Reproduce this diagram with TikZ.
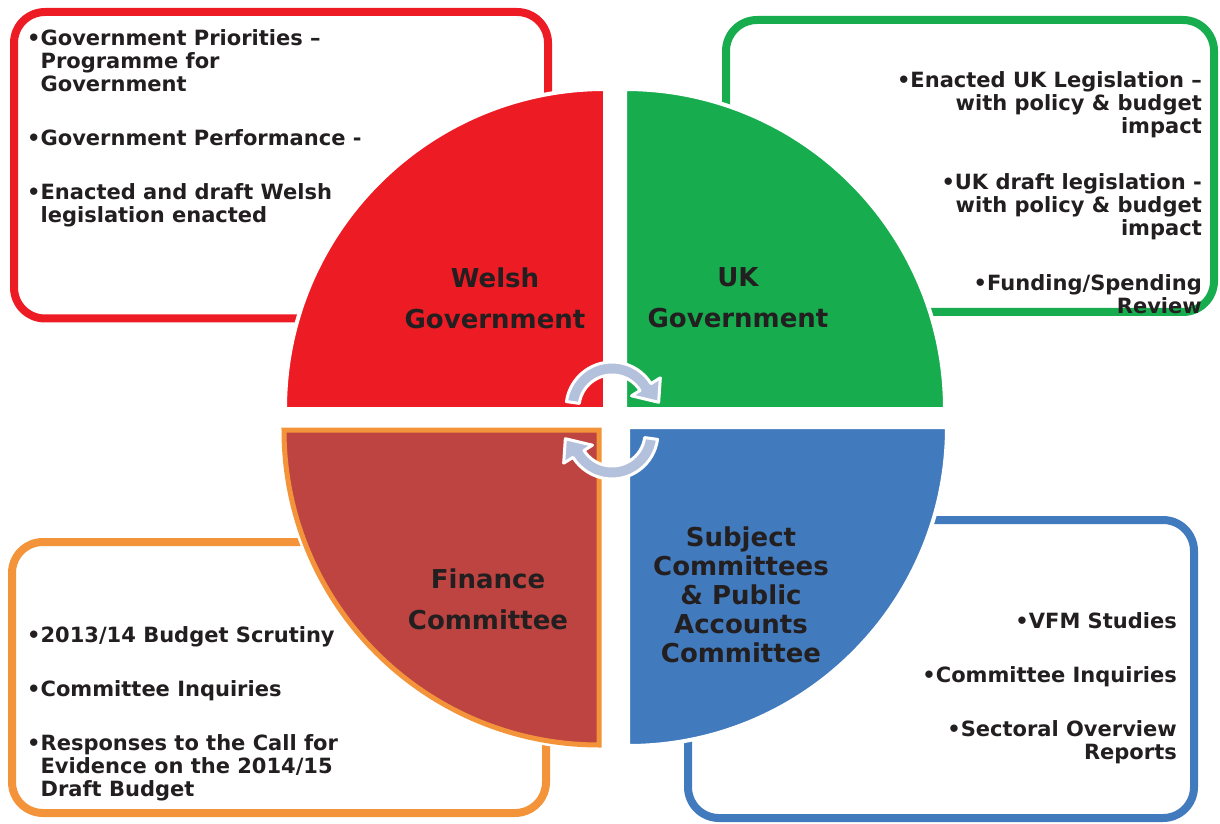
\documentclass[tikz,border=0pt]{standalone}
\usepackage{fontspec}
\setmainfont{DejaVu Sans}
\usepackage{xcolor}
\usepackage{tikz}

\definecolor{wgred}{HTML}{ED1C24}
\definecolor{ukgreen}{HTML}{17AD4E}
\definecolor{scblue}{HTML}{427BBD}
\definecolor{fcorange}{HTML}{F4943A}
\definecolor{fcfill}{HTML}{BE4441}
\definecolor{turnblue}{HTML}{B4C1DD}
\definecolor{txt}{HTML}{231F20}

\newcommand{\ind}{\phantom{•}}

\begin{document}
\begin{tikzpicture}[x=1pt, y=1pt,
        box/.style={rounded corners=31pt, line width=8pt},
        quarter/.style={draw=white, line width=4pt},
        heading/.style={font=\fontsize{26}{41}\selectfont\bfseries, text=txt, align=center},
        items/.style={font=\fontsize{21}{23}\selectfont\bfseries, text=txt, inner sep=0pt},
        turn/.style={fill=turnblue, draw=white, line width=3pt, line join=round}]
        \useasboundingbox (0,0) rectangle (1220,823);

        \draw[box, draw=wgred] (14,504.5) rectangle (548,811);
        \draw[box, draw=ukgreen] (726,511) rectangle (1214,803);
        \draw[box, draw=fcorange] (12,10) rectangle (546,281);
        \draw[box, draw=scblue] (688,5) rectangle (1194,303);

        \filldraw[quarter, fill=wgred] (605,414) -- ++(-320,0) arc[start angle=180, end angle=90, radius=320] -- cycle;
        \filldraw[quarter, fill=ukgreen] (625,414) -- ++(320,0) arc[start angle=0, end angle=90, radius=320] -- cycle;
        \filldraw[quarter, fill=scblue] (628,396) -- ++(319,0) arc[start angle=0, end angle=-90, radius=319] -- cycle;
        \draw[white, line width=10pt] (599,393) -- ++(-315,0) arc[start angle=180, end angle=270, radius=315] -- cycle;
        \filldraw[fill=fcfill, draw=fcorange, line width=5pt] (599,393) -- ++(-315,0) arc[start angle=180, end angle=270, radius=315] -- cycle;

        \begin{scope}[shift={(612,415)}]
            \filldraw[turn] (172:46) arc[start angle=172, end angle=32, radius=46] -- (32:57) -- (7:47) -- (32:23) -- (32:33) arc[start angle=32, end angle=172, radius=33] -- cycle;
        \end{scope}
        \begin{scope}[shift={(612,390)}, rotate=180]
            \filldraw[turn] (172:46) arc[start angle=172, end angle=32, radius=46] -- (32:57) -- (7:47) -- (32:23) -- (32:33) arc[start angle=32, end angle=172, radius=33] -- cycle;
        \end{scope}

        \node[heading] (wg) at (495,525) {Welsh\\Government};
        \node[heading] (ukg) at (738,525) {UK\\Government};
        \node[heading] (fc) at (488,224) {Finance\\Committee};
        \node[heading, font=\fontsize{26}{29}\selectfont\bfseries] (sc) at (741,228) {Subject\\Committees\\\& Public\\Accounts\\Committee};

        \node[items, anchor=north west, align=left] (wgitems) at (27,794)
            {•Government Priorities –\\\ind Programme for\\\ind Government\\[31pt]•Government Performance -\\[31pt]•Enacted and draft Welsh\\\ind legislation enacted};
        \node[items, anchor=north east, align=right] (ukitems) at (1202,752)
            {•Enacted UK Legislation –\\with policy \& budget\\impact\\[33pt]•UK draft legislation -\\with policy \& budget\\impact\\[32pt]•Funding/Spending\\Review};
        \node[items, anchor=north west, align=left] (fcitems) at (27,197)
            {•2013/14 Budget Scrutiny\\[31pt]•Committee Inquiries\\[31pt]•Responses to the Call for\\\ind Evidence on the 2014/15\\\ind Draft Budget};
        \node[items, anchor=north east, align=right] (scitems) at (1177,211)
            {•VFM Studies\\[31pt]•Committee Inquiries\\[31pt]•Sectoral Overview\\Reports};
\end{tikzpicture}
\end{document}
